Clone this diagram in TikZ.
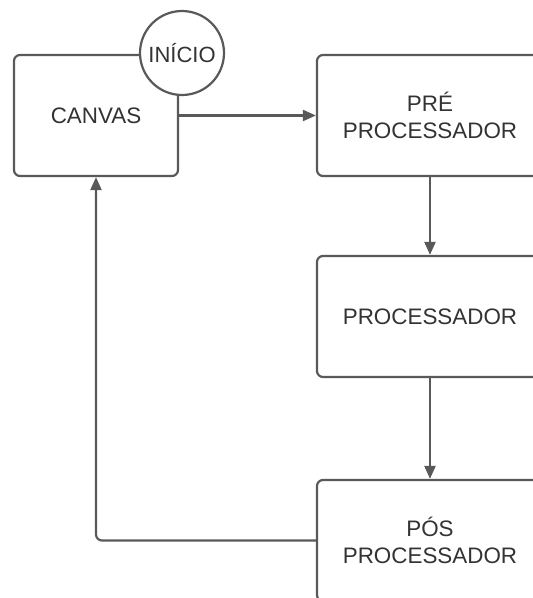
\documentclass[tikz,border=0pt]{standalone}
\usepackage{fontspec}
\setmainfont{Liberation Sans}
\usetikzlibrary{arrows.meta}
\definecolor{linegray}{HTML}{595959}
\definecolor{textgray}{HTML}{333333}

\begin{document}
\begin{tikzpicture}[
  x=1pt, y=-1pt,
  line width=2.2pt,
  box/.style={
    draw=linegray, fill=white, rounded corners=6pt,
    minimum width=226pt, minimum height=121pt,
    align=center, text=textgray,
    font=\fontsize{22.4}{27}\selectfont,
  },
  start/.style={
    draw=linegray, fill=white, circle, minimum size=84pt, inner sep=0pt,
    text=textgray, font=\fontsize{22}{27}\selectfont,
  },
  flow/.style={draw=linegray, -{Triangle[length=13pt,width=11pt]}},
  ]
  \useasboundingbox (0,0) rectangle (533,598);
  \clip (0,0) rectangle (533,598);
  \node[box, minimum width=164pt] (canvas) at (96,115.5) {CANVAS};
  \node[start] (inicio) at (182,53) {INÍCIO};
  \node[box] (pre) at (430,115.5) {PRÉ\\PROCESSADOR};
  \node[box] (proc) at (430,316.5) {PROCESSADOR};
  \node[box] (pos) at (430,540.5) {PÓS\\PROCESSADOR};
  \draw[flow] (canvas) -- (pre);
  \draw[flow] (pre) -- (proc);
  \draw[flow] (proc) -- (pos);
  \draw[flow, rounded corners=6pt] (pos.west) -| (canvas.south);
\end{tikzpicture}
\end{document}
